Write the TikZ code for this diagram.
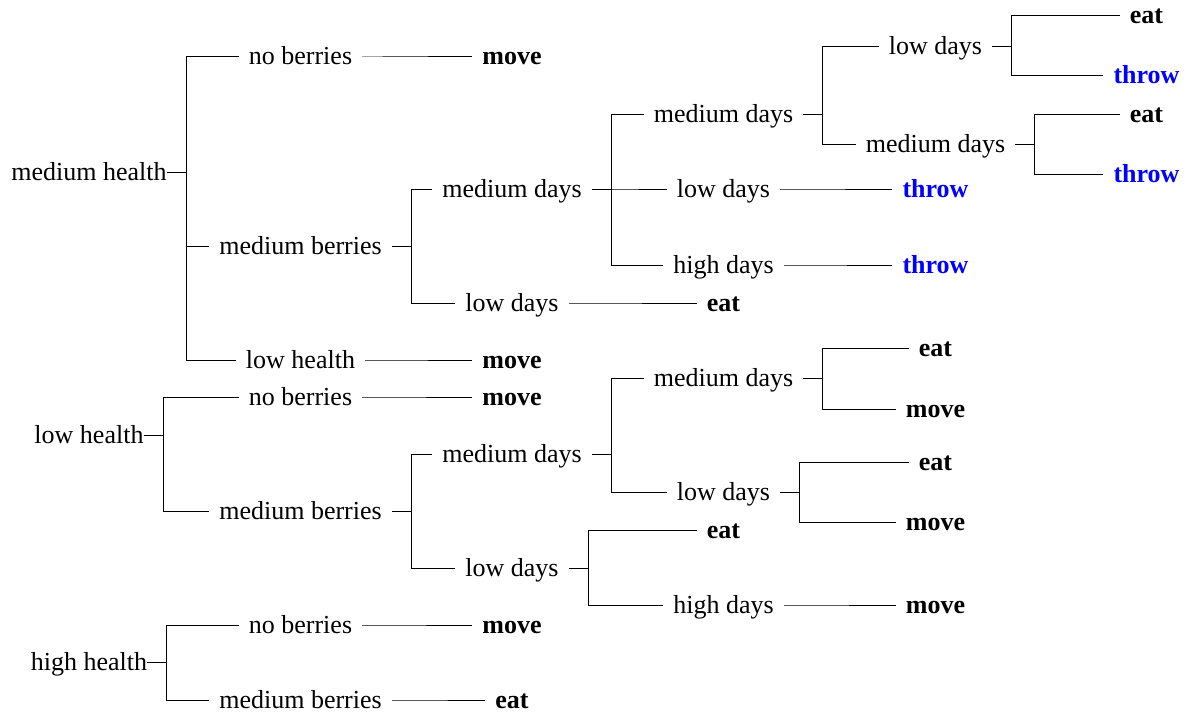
\documentclass[tikz,border=0pt]{standalone}
\usepackage{fontspec}
\setmainfont{Liberation Serif}
\definecolor{throwblue}{RGB}{0,0,255}
\newcommand\fs{\fontsize{26}{31}\selectfont}
\tikzset{
  lbl/.style={anchor=base, yshift=-8pt, inner xsep=10pt, inner ysep=2pt, font=\fs},
  root/.style={lbl, inner xsep=0pt},
  act/.style={lbl, font=\fs\bfseries},
  thr/.style={act, text=throwblue},
  conn/.style={draw=black, line width=1pt},
}
\begin{document}
\fs
\begin{tikzpicture}[x=1pt, y=-1pt]
\useasboundingbox (0,0) rectangle (1187,717);
% tree 1
\node[root] (mh) at (89,172) {medium health};
\node[lbl] (mhnb) at (300.5,57) {no berries};
\node[act] (m1) at (512,57) {move};
\node[lbl] (mhmb) at (300.5,246) {medium berries};
\node[lbl] (mhmbmd) at (512,189) {medium days};
\node[lbl] (mhmbmdmd) at (723.5,114) {medium days};
\node[lbl] (mhmbmdmdld) at (935.5,47) {low days};
\node[act] (e1) at (1146.5,16) {eat};
\node[thr] (t1) at (1146.5,76) {throw};
\node[lbl] (mhmbmdmdmd) at (935.5,144) {medium days};
\node[act] (e2) at (1146.5,114) {eat};
\node[thr] (t2) at (1146.5,174) {throw};
\node[lbl] (mhmbmdld) at (723.5,189) {low days};
\node[thr] (t3) at (935.5,189) {throw};
\node[lbl] (mhmbmdhd) at (723.5,265) {high days};
\node[thr] (t4) at (935.5,265) {throw};
\node[lbl] (mhmbld) at (512,303) {low days};
\node[act] (e3) at (723.5,303) {eat};
\node[lbl] (mhlh) at (300.5,360) {low health};
\node[act] (m2) at (512,360) {move};
% tree 2
\node[root] (lh) at (89,435) {low health};
\node[lbl] (lhnb) at (300.5,397) {no berries};
\node[act] (m3) at (512,397) {move};
\node[lbl] (lhmb) at (300.5,511) {medium berries};
\node[lbl] (lhmbmd) at (512,454) {medium days};
\node[lbl] (lhmbmdmd) at (723.5,378) {medium days};
\node[act] (e4) at (935.5,348) {eat};
\node[act] (m4) at (935.5,409) {move};
\node[lbl] (lhmbmdld) at (723.5,492) {low days};
\node[act] (e5) at (935.5,462) {eat};
\node[act] (m5) at (935.5,522) {move};
\node[lbl] (lhmbld) at (512,568) {low days};
\node[act] (e6) at (723.5,530) {eat};
\node[lbl] (lhmbldhd) at (723.5,605) {high days};
\node[act] (m6) at (935.5,605) {move};
% tree 3
\node[root] (hh) at (89,662) {high health};
\node[lbl] (hhnb) at (300.5,625) {no berries};
\node[act] (m7) at (512,625) {move};
\node[lbl] (hhmb) at (300.5,700) {medium berries};
\node[act] (e7) at (512,700) {eat};
% connectors
\foreach \p/\c in {mh/mhnb, mh/mhmb, mh/mhlh, mhnb/m1,
  mhmb/mhmbmd, mhmb/mhmbld, mhmbmd/mhmbmdmd, mhmbmd/mhmbmdld, mhmbmd/mhmbmdhd,
  mhmbmdmd/mhmbmdmdld, mhmbmdmd/mhmbmdmdmd, mhmbmdmdld/e1, mhmbmdmdld/t1,
  mhmbmdmdmd/e2, mhmbmdmdmd/t2, mhmbmdld/t3, mhmbmdhd/t4, mhmbld/e3, mhlh/m2,
  lh/lhnb, lh/lhmb, lhnb/m3, lhmb/lhmbmd, lhmb/lhmbld, lhmbmd/lhmbmdmd, lhmbmd/lhmbmdld,
  lhmbmdmd/e4, lhmbmdmd/m4, lhmbmdld/e5, lhmbmdld/m5, lhmbld/e6, lhmbld/lhmbldhd, lhmbldhd/m6,
  hh/hhnb, hh/hhmb, hhnb/m7, hhmb/e7}
  \draw[conn] ([yshift=8pt]\p.base east) -- ++(19.5,0) |- ([yshift=8pt]\c.base west);
\end{tikzpicture}
\end{document}
